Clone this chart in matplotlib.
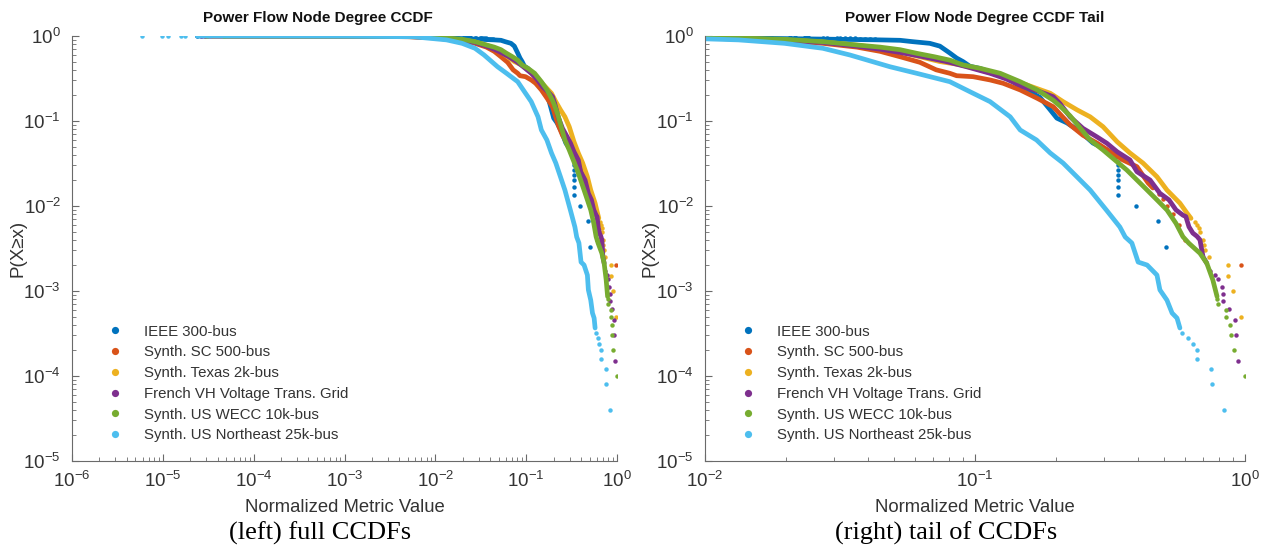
import matplotlib
matplotlib.use("Agg")
import matplotlib.pyplot as plt
from matplotlib.lines import Line2D
from matplotlib.ticker import FixedLocator, NullFormatter, LogFormatterSciNotation

plt.rcParams['font.family'] = ['Liberation Sans', 'DejaVu Sans']

labels = ["IEEE 300-bus", "Synth. SC 500-bus", "Synth. Texas 2k-bus",
          "French VH Voltage Trans. Grid", "Synth. US WECC 10k-bus",
          "Synth. US Northeast 25k-bus"]
colors = ["#0072BD", "#D95319", "#EDB120", "#7E2F8E", "#77AC30", "#4DBEEE"]

# ---- IEEE 300-bus ----
ieee_curve_x = [2.4e-5, 1e-3, 5e-3, 0.0445, 0.0528, 0.0589, 0.068, 0.0741, 0.0807, 0.0855, 0.0903,
                0.0958, 0.1044, 0.122, 0.138, 0.155, 0.174, 0.190, 0.201, 0.219, 0.245,
                0.2735, 0.308, 0.336]
ieee_curve_y = [1.0, 0.998, 0.99, 0.90, 0.89, 0.857, 0.82, 0.76, 0.63, 0.55, 0.50, 0.44, 0.415,
                0.35, 0.29, 0.23, 0.19, 0.135, 0.108, 0.095, 0.075, 0.055, 0.0456, 0.0377]
ieee_dots_x = [2.38e-5, 0.0085, 0.0105, 0.0125, 0.015, 0.0175, 0.0206, 0.0216, 0.0234, 0.0241,
               0.0274, 0.0282, 0.0308, 0.0316, 0.033, 0.0344, 0.0359, 0.0375, 0.0391, 0.0408,
               0.0426, 0.339, 0.339, 0.339, 0.339, 0.339, 0.339, 0.339, 0.394, 0.476, 0.509]
ieee_dots_y = [1.0, 0.985, 0.98, 0.975, 0.97, 0.968, 0.965, 0.965, 0.963, 0.963, 0.96, 0.958,
               0.95, 0.95, 0.945, 0.94, 0.935, 0.93, 0.925, 0.92, 0.91, 0.0333, 0.03, 0.0267,
               0.0233, 0.02, 0.0167, 0.0133, 0.01, 0.00667, 0.00333]

# ---- Synth. SC 500-bus ----
sc_curve_x = [2.9e-5, 1e-3, 5e-3, 0.01, 0.0197, 0.0273, 0.0365, 0.0445, 0.0528, 0.0625, 0.0718,
              0.0807, 0.0855, 0.0984, 0.1137, 0.127, 0.147, 0.170, 0.195, 0.225, 0.251,
              0.283, 0.353, 0.398, 0.4375, 0.456]
sc_curve_y = [1.0, 0.997, 0.98, 0.95, 0.87, 0.82, 0.74, 0.66, 0.57, 0.49, 0.40, 0.364, 0.341,
              0.332, 0.304, 0.278, 0.232, 0.185, 0.147, 0.09, 0.068, 0.055, 0.0348, 0.029,
              0.0187, 0.0163]
sc_dots_x = [2.9e-5, 0.48, 0.497, 0.514, 0.541, 0.57, 0.60, 0.97]
sc_dots_y = [1.0, 0.014, 0.012, 0.010, 0.008, 0.006, 0.004, 0.002]

# ---- Synth. Texas 2k-bus ----
tx_curve_x = [3.6e-5, 1e-3, 5e-3, 0.01, 0.0197, 0.0273, 0.0365, 0.0445, 0.0528, 0.0625, 0.0741,
              0.088, 0.1044, 0.124, 0.156, 0.190, 0.212, 0.239, 0.267, 0.298, 0.336, 0.375,
              0.419, 0.472, 0.514, 0.574, 0.609, 0.631]
tx_curve_y = [1.0, 0.997, 0.985, 0.96, 0.90, 0.85, 0.78, 0.72, 0.65, 0.57, 0.50, 0.46, 0.40,
              0.34, 0.265, 0.212, 0.169, 0.135, 0.112, 0.0857, 0.057, 0.042, 0.032, 0.0221,
              0.0154, 0.0108, 0.0083, 0.00716]
tx_dots_x = [3.6e-5, 0.655, 0.665, 0.676, 0.681, 0.699, 0.704, 0.711, 0.736, 0.865, 0.865,
             0.903, 0.964]
tx_dots_y = [1.0, 0.0065, 0.006, 0.0055, 0.005, 0.004, 0.0035, 0.003, 0.0025, 0.002, 0.0015,
             0.001, 0.0005]

# ---- French VH Voltage Trans. Grid ----
fr_curve_x = [2.64e-5, 1e-3, 5e-3, 0.01, 0.0197, 0.0273, 0.0365, 0.0445, 0.0528, 0.0641, 0.0785,
              0.093, 0.1137, 0.1315, 0.151, 0.174, 0.195, 0.2065, 0.225, 0.251, 0.283, 0.308,
              0.336, 0.375, 0.398, 0.445, 0.484, 0.523, 0.555, 0.589, 0.604, 0.620, 0.641,
              0.664, 0.681, 0.699, 0.722]
fr_curve_y = [1.0, 0.997, 0.985, 0.96, 0.89, 0.84, 0.76, 0.70, 0.64, 0.571, 0.499, 0.435, 0.364,
              0.31, 0.253, 0.221, 0.193, 0.16, 0.112, 0.082, 0.065, 0.0547, 0.0435, 0.0348,
              0.0253, 0.0202, 0.0141, 0.0118, 0.009, 0.0078, 0.0075, 0.0057, 0.0048, 0.0044,
              0.004, 0.00253, 0.00212]
fr_dots_x = [2.64e-5, 0.741, 0.774, 0.794, 0.82, 0.827, 0.831, 0.875, 0.918, 0.926, 0.942]
fr_dots_y = [1.0, 1.73e-3, 1.54e-3, 1.37e-3, 1.1e-3, 9.1e-4, 7.6e-4, 6.1e-4, 4.55e-4,
             3.03e-4, 1.52e-4]

# ---- Synth. US WECC 10k-bus ----
wecc_curve_x = [4.66e-5, 1e-3, 5e-3, 0.01, 0.0197, 0.0273, 0.0365, 0.0445, 0.0528, 0.0608,
                0.0707, 0.0807, 0.0903, 0.1044, 0.124, 0.147, 0.170, 0.195, 0.2065, 0.225,
                0.245, 0.267, 0.298, 0.324, 0.365, 0.398, 0.434, 0.472, 0.514, 0.555, 0.589,
                0.620, 0.681, 0.722, 0.760, 0.788]
wecc_curve_y = [1.0, 0.998, 0.99, 0.97, 0.915, 0.857, 0.784, 0.74, 0.69, 0.626, 0.57, 0.52,
                0.456, 0.417, 0.364, 0.290, 0.232, 0.175, 0.15, 0.115, 0.083, 0.0598, 0.0456,
                0.0364, 0.0265, 0.0202, 0.0154, 0.0118, 0.00897, 0.00626, 0.00435, 0.00364,
                0.00278, 0.00212, 0.00135, 8.6e-4]
wecc_dots_x = [3.08e-5, 4.66e-5, 0.789, 0.794, 0.851, 0.851, 0.88, 0.887, 0.91, 1.0]
wecc_dots_y = [1.0, 1.0, 8e-4, 7e-4, 6e-4, 5e-4, 4e-4, 3e-4, 2e-4, 1e-4]

# ---- Synth. US Northeast 25k-bus ----
ne_curve_x = [2.4e-5, 1e-4, 1e-3, 0.0057, 0.0133, 0.0197, 0.0273, 0.0344, 0.0484, 0.0608,
              0.0807, 0.0958, 0.1137, 0.135, 0.147, 0.169, 0.190, 0.212, 0.239, 0.267, 0.308,
              0.344, 0.360, 0.381, 0.402, 0.434, 0.472, 0.484, 0.514, 0.537, 0.560, 0.574]
ne_curve_y = [1.0, 0.999, 0.995, 0.98, 0.90, 0.82, 0.717, 0.598, 0.435, 0.364, 0.29, 0.221,
              0.169, 0.112, 0.0784, 0.0598, 0.042, 0.032, 0.0219, 0.0154, 0.0088, 0.00566,
              0.00432, 0.00367, 0.00219, 0.00202, 0.00154, 0.00103, 7.8e-4, 5.5e-4, 4.8e-4,
              3.67e-4]
ne_dots_x = [5.85e-6, 9.8e-6, 1.15e-5, 1.57e-5, 1.74e-5, 0.583, 0.616, 0.640, 0.662, 0.666,
             0.748, 0.755, 0.834]
ne_dots_y = [1.0, 1.0, 1.0, 1.0, 1.0, 3.2e-4, 2.8e-4, 2.4e-4, 2e-4, 1.6e-4, 1.2e-4, 8e-5, 4e-5]

series = [
    (ieee_curve_x, ieee_curve_y, ieee_dots_x, ieee_dots_y),
    (sc_curve_x, sc_curve_y, sc_dots_x, sc_dots_y),
    (tx_curve_x, tx_curve_y, tx_dots_x, tx_dots_y),
    (fr_curve_x, fr_curve_y, fr_dots_x, fr_dots_y),
    (wecc_curve_x, wecc_curve_y, wecc_dots_x, wecc_dots_y),
    (ne_curve_x, ne_curve_y, ne_dots_x, ne_dots_y),
]

titles = ["Power Flow Node Degree CCDF", "Power Flow Node Degree CCDF Tail"]
captions = ["(left) full CCDFs", "(right) tail of CCDFs"]
x_decades = [(-6, 0), (-2, 0)]
y_decades = (-5, 0)


def decade_ticks(lo, hi):
    major = [10.0 ** e for e in range(lo, hi + 1)]
    minor = [m * 10.0 ** e for e in range(lo, hi) for m in range(2, 10)]
    return major, minor


W, H = 1267, 550
fig = plt.figure(figsize=(W / 100, H / 100), dpi=100)
axes_px = [(72, 617), (705, 1245)]
title_cx = [318, 975]
ylabel_px = [18, 650]
caption_cx = [320, 946]
top_px, bot_px = 36, 461
axc = "#6a6a6a"
txtc = "#333333"

for i, (x0, x1) in enumerate(axes_px):
    ax = fig.add_axes([x0 / W, 1 - bot_px / H, (x1 - x0) / W, (bot_px - top_px) / H])
    ax.set_xscale('log')
    ax.set_yscale('log')
    for (cx, cy, dx, dy), c in zip(series, colors):
        ax.plot(cx, cy, '-', color=c, lw=3.4, solid_capstyle='round', zorder=2)
        ax.plot(dx, dy, 'o', color=c, ms=3.2, mew=0, zorder=2)
    xlo, xhi = x_decades[i]
    ax.set_xlim(10.0 ** xlo, 10.0 ** xhi)
    ax.set_ylim(10.0 ** y_decades[0], 10.0 ** y_decades[1])
    xmaj, xmin = decade_ticks(xlo, xhi)
    ymaj, ymin = decade_ticks(*y_decades)
    ax.xaxis.set_major_locator(FixedLocator(xmaj))
    ax.xaxis.set_minor_locator(FixedLocator(xmin))
    ax.yaxis.set_major_locator(FixedLocator(ymaj))
    ax.yaxis.set_minor_locator(FixedLocator(ymin))
    ax.xaxis.set_major_formatter(LogFormatterSciNotation())
    ax.yaxis.set_major_formatter(LogFormatterSciNotation())
    ax.xaxis.set_minor_formatter(NullFormatter())
    ax.yaxis.set_minor_formatter(NullFormatter())
    for s in ['top', 'right']:
        ax.spines[s].set_visible(False)
    for s in ['left', 'bottom']:
        ax.spines[s].set_color(axc)
        ax.spines[s].set_linewidth(0.8)
    ax.tick_params(which='both', direction='in', colors=axc, labelcolor=txtc, labelsize=13.5)
    ax.tick_params(which='major', length=5, width=0.8)
    ax.tick_params(which='minor', length=3, width=0.6)
    ax.tick_params(axis='x', pad=7)
    ax.tick_params(axis='y', pad=8)
    fig.text(title_cx[i] / W, 1 - 18 / H, titles[i], ha='center', va='center',
             fontsize=11, fontweight='bold', color='#111111')
    ax.set_xlabel("Normalized Metric Value", fontsize=13.3, color=txtc)
    ax.xaxis.set_label_coords(0.5, -(508 - bot_px) / (bot_px - top_px), transform=ax.transAxes)
    ax.xaxis.label.set_va('center')
    ax.set_ylabel("P(X\u2265x)", fontsize=13.5, color=txtc)
    ax.yaxis.set_label_coords((ylabel_px[i] - x0) / (x1 - x0), 0.5, transform=ax.transAxes)
    ax.yaxis.label.set_va('center')
    handles = [Line2D([], [], marker='o', ls='none', color=c, ms=5.2, mew=0) for c in colors]
    ax.legend(handles, labels, loc='upper left', bbox_to_anchor=(0.065, 0.321), frameon=False,
              fontsize=10.8, handlelength=1.0, handletextpad=1.43, labelspacing=0.45,
              borderpad=0, borderaxespad=0, labelcolor=txtc)
    fig.text(caption_cx[i] / W, 1 - 533 / H, captions[i], ha='center', va='center',
             fontsize=19, family=['Liberation Serif', 'DejaVu Serif'], color='black')

fig.savefig("out.png", dpi=100)
